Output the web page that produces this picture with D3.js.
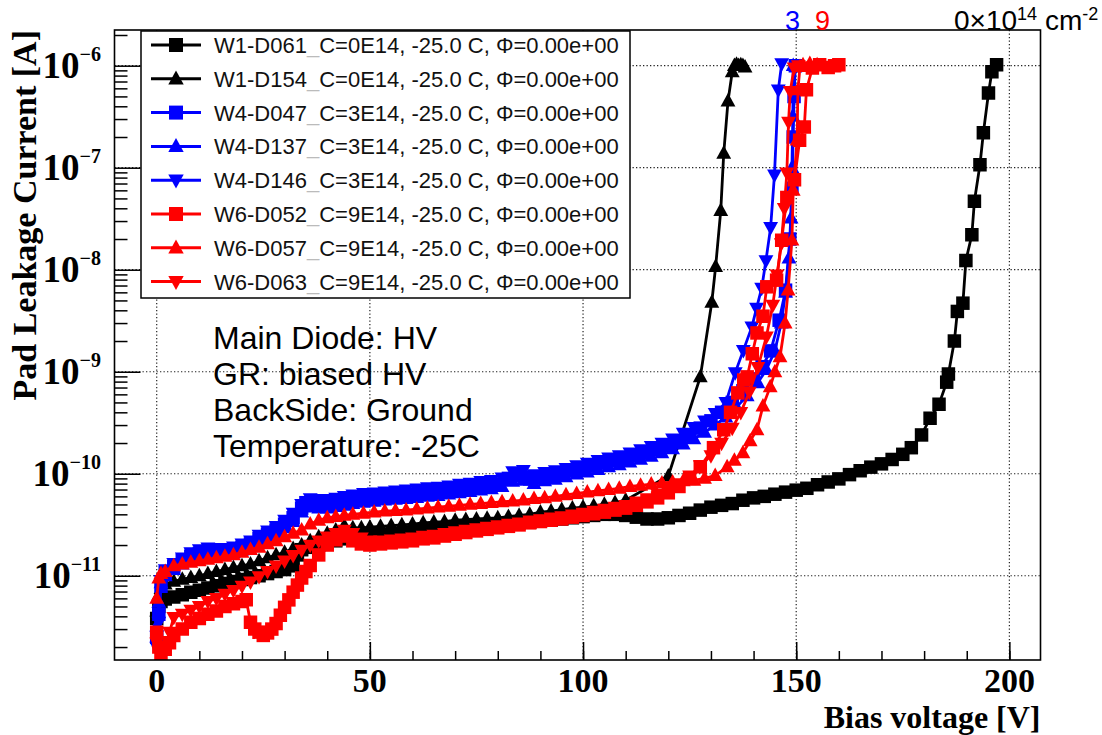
<!DOCTYPE html>
<html><head><meta charset="utf-8">
<script src="https://cdn.jsdelivr.net/npm/d3@7"></script>
<style>body{margin:0;background:#fff}</style>
</head><body><svg id="c" width="1102" height="735"></svg>
<script>
// ---------------- data: [bias voltage V, current A] ----------------
const w1d061 = [[0,3.8e-12],[0.5,5.0e-12],[1,5.6e-12],[2,5.9e-12],[4,6.2e-12],[6,6.5e-12],[8,6.9e-12],[10,7.2e-12],[12,7.6e-12],[14,8.0e-12],[16,8.4e-12],[18,8.8e-12],[20,9.2e-12],[22,9.6e-12],[24,1.0e-11],[26,1.05e-11],[28,1.1e-11],[30,1.15e-11],[32,1.25e-11],[33,1.6e-11],[34,1.8e-11],[36,1.9e-11],[38,2.0e-11],[40,2.1e-11],[42,2.2e-11],[44,2.3e-11],[46,2.35e-11],[48,2.4e-11],[50,2.45e-11],[52.5,2.5e-11],[55,2.55e-11],[57.5,2.6e-11],[60,2.65e-11],[62.5,2.75e-11],[65,2.8e-11],[67.5,2.85e-11],[70,2.9e-11],[72.5,3.0e-11],[75,3.05e-11],[77.5,3.1e-11],[80,3.15e-11],[82.5,3.2e-11],[85,3.3e-11],[87.5,3.35e-11],[90,3.45e-11],[92.5,3.5e-11],[95,3.6e-11],[97.5,3.7e-11],[100,3.8e-11],[102.5,3.9e-11],[105,4.0e-11],[107.5,4.0e-11],[110,3.9e-11],[112.5,3.75e-11],[115,3.6e-11],[117.5,3.6e-11],[120,3.7e-11],[122.5,3.9e-11],[125,4.1e-11],[127.5,4.4e-11],[130,4.7e-11],[132.5,4.9e-11],[135,5.1e-11],[137.5,5.5e-11],[140,5.8e-11],[142.5,6.0e-11],[145,6.3e-11],[147.5,6.6e-11],[150,6.9e-11],[152.5,7.2e-11],[155,7.8e-11],[157.5,8.3e-11],[160,8.9e-11],[162.5,9.8e-11],[165,1.07e-10],[167.5,1.16e-10],[170,1.25e-10],[172.5,1.38e-10],[175,1.55e-10],[177,1.8e-10],[179.4,2.4e-10],[181.4,3.5e-10],[183.5,4.8e-10],[185.3,7.9e-10],[185.7,9.5e-10],[187.1,2.0e-9],[187.8,3.9e-9],[189.1,4.7e-9],[189.8,1.23e-8],[191.2,2.2e-8],[191.8,4.7e-8],[193.1,1.07e-7],[193.9,2.2e-7],[195.1,5.4e-7],[195.9,8.7e-7],[197.0,1.02e-6]];
const w1d154 = [[0,4.5e-12],[0.5,6.5e-12],[1,7.5e-12],[2,8.3e-12],[4,8.8e-12],[6,9.2e-12],[8,9.6e-12],[10,1.0e-11],[12,1.05e-11],[14,1.1e-11],[16,1.15e-11],[18,1.2e-11],[20,1.25e-11],[22,1.3e-11],[24,1.4e-11],[26,1.5e-11],[28,1.6e-11],[30,1.7e-11],[32,1.85e-11],[34,2.0e-11],[36,2.2e-11],[38,2.4e-11],[40,2.6e-11],[42,2.8e-11],[44,3.1e-11],[46,2.95e-11],[48,2.95e-11],[50,3.0e-11],[52.5,3.05e-11],[55,3.1e-11],[57.5,3.15e-11],[60,3.2e-11],[62.5,3.3e-11],[65,3.35e-11],[67.5,3.4e-11],[70,3.5e-11],[72.5,3.55e-11],[75,3.6e-11],[77.5,3.65e-11],[80,3.7e-11],[82.5,3.8e-11],[85,3.9e-11],[87.5,4.0e-11],[90,4.2e-11],[92.5,4.3e-11],[95,4.45e-11],[97.5,4.6e-11],[100,4.7e-11],[102.5,4.85e-11],[105,5.0e-11],[107.5,5.2e-11],[110,5.5e-11],[120,9.5e-11],[127.5,8.9e-10],[130.2,4.8e-9],[131.1,1.07e-8],[132.3,3.8e-8],[133.0,1.38e-7],[134.0,4.5e-7],[135.0,8.7e-7],[135.5,1.0e-6],[136,1.03e-6],[136.5,1.0e-6],[137,1.02e-6],[137.5,1.0e-6],[138,9.7e-7]];
const w4d047 = [[0,2.5e-12],[0.5,4.2e-12],[1,7.9e-12],[2,1.07e-11],[4,1.23e-11],[6,1.4e-11],[8,1.55e-11],[10,1.65e-11],[12,1.74e-11],[14,1.72e-11],[16,1.7e-11],[18,1.78e-11],[20,1.9e-11],[22,2.05e-11],[24,2.3e-11],[26,2.55e-11],[28,2.8e-11],[30,3.2e-11],[32,3.7e-11],[34,4.6e-11],[35,5.2e-11],[37,5.1e-11],[39,5.0e-11],[41,5.1e-11],[43,5.25e-11],[45,5.5e-11],[47.5,5.7e-11],[50,5.8e-11],[52.5,5.95e-11],[55,6.1e-11],[57.5,6.2e-11],[60,6.3e-11],[62.5,6.5e-11],[65,6.6e-11],[67.5,6.8e-11],[70,7.0e-11],[72.5,7.2e-11],[75,7.5e-11],[77.5,7.7e-11],[80,7.9e-11],[82.5,9.0e-11],[85,1.0e-10],[87.5,8.9e-11],[90,9.2e-11],[92.5,9.5e-11],[95,1.0e-10],[97.5,1.08e-10],[100,1.12e-10],[102.5,1.2e-10],[105,1.28e-10],[107.5,1.35e-10],[110,1.4e-10],[112.5,1.5e-10],[115,1.6e-10],[117.5,1.75e-10],[120,1.9e-10],[122.5,2.1e-10],[125,2.4e-10],[127.5,2.8e-10],[130,3.3e-10],[132.5,4.0e-10],[135,5.0e-10],[137.5,6.5e-10],[140,8.5e-10],[142,1.12e-9],[144,1.6e-9],[146,3.2e-9],[147.5,6.3e-9],[148.5,2.0e-8],[149,6.3e-8],[149.3,2.0e-7],[149.5,5.0e-7],[149.8,1.0e-6]];
const w4d137 = [[0,3.2e-12],[0.5,5.5e-12],[1,8.5e-12],[2,1.0e-11],[4,1.15e-11],[6,1.3e-11],[8,1.45e-11],[10,1.55e-11],[12,1.62e-11],[14,1.6e-11],[16,1.6e-11],[18,1.68e-11],[20,1.78e-11],[22,1.92e-11],[24,2.15e-11],[26,2.4e-11],[28,2.6e-11],[30,2.95e-11],[32,3.4e-11],[34,4.2e-11],[36,4.7e-11],[38,4.6e-11],[40,4.6e-11],[42,4.75e-11],[44,4.9e-11],[46,5.1e-11],[48.5,5.25e-11],[51,5.35e-11],[53.5,5.5e-11],[56,5.6e-11],[58.5,5.7e-11],[61,5.85e-11],[63.5,6.0e-11],[66,6.1e-11],[68.5,6.3e-11],[71,6.5e-11],[73.5,6.7e-11],[76,6.9e-11],[78.5,7.1e-11],[81,7.5e-11],[83.5,8.4e-11],[86,8.6e-11],[88.5,8.0e-11],[91,8.5e-11],[93.5,8.8e-11],[96,9.3e-11],[98.5,9.9e-11],[101,1.04e-10],[103.5,1.1e-10],[106,1.17e-10],[108.5,1.22e-10],[111,1.3e-10],[113.5,1.38e-10],[116,1.48e-10],[118.5,1.6e-10],[121,1.75e-10],[123.5,1.95e-10],[126,2.2e-10],[128.5,2.55e-10],[131,3.0e-10],[133.5,3.6e-10],[136,4.5e-10],[138.5,5.8e-10],[141,7.8e-10],[143,1.05e-9],[145,1.6e-9],[146.5,3.0e-9],[147.5,6.0e-9],[148.3,1.3e-8],[148.8,3.2e-8],[149,1.0e-7],[149.2,3.2e-7],[149.3,1.0e-6]];
const w4d146 = [[0,2.0e-12],[0.5,3.5e-12],[1,9.0e-12],[2,1.15e-11],[4,1.32e-11],[6,1.5e-11],[8,1.68e-11],[10,1.8e-11],[12,1.88e-11],[14,1.85e-11],[16,1.85e-11],[18,1.92e-11],[20,2.05e-11],[22,2.2e-11],[24,2.5e-11],[26,2.75e-11],[28,3.05e-11],[30,3.5e-11],[32,4.1e-11],[34,5.0e-11],[36,5.7e-11],[38,5.6e-11],[40,5.6e-11],[42,5.75e-11],[44,6.0e-11],[46,6.2e-11],[48.5,6.4e-11],[51,6.5e-11],[53.5,6.65e-11],[56,6.8e-11],[58.5,6.95e-11],[61,7.1e-11],[63.5,7.3e-11],[66,7.4e-11],[68.5,7.6e-11],[71,7.9e-11],[73.5,8.1e-11],[76,8.4e-11],[78.5,8.6e-11],[81,9.1e-11],[83.5,1.05e-10],[86,1.08e-10],[88.5,9.8e-11],[91,1.03e-10],[93.5,1.07e-10],[96,1.13e-10],[98.5,1.2e-10],[101,1.27e-10],[103.5,1.35e-10],[106,1.43e-10],[108.5,1.5e-10],[111,1.6e-10],[113.5,1.72e-10],[116,1.85e-10],[118.5,2.0e-10],[121,2.2e-10],[123.5,2.5e-10],[126,2.85e-10],[128.5,3.3e-10],[131,3.9e-10],[133.5,5.0e-10],[135.7,9.8e-10],[137.6,1.62e-9],[139.6,2.75e-9],[140.7,4.2e-9],[141.9,6.6e-9],[142.9,1.23e-8],[144.0,2.6e-8],[144.9,8.5e-8],[145.8,5.8e-7],[146.6,1.05e-6]];
const w6d052 = [[0,2.8e-12],[0.5,2.0e-12],[1,1.7e-12],[2,1.9e-12],[3,2.2e-12],[4,2.6e-12],[6,3.0e-12],[8,3.5e-12],[10,3.8e-12],[12,4.2e-12],[14,4.5e-12],[16,5.0e-12],[18,5.3e-12],[20,5.6e-12],[21,5.8e-12],[22,3.5e-12],[23,3.0e-12],[24,2.8e-12],[25,2.6e-12],[26,2.75e-12],[27,3.0e-12],[28,3.4e-12],[29,4.1e-12],[30,4.9e-12],[31,5.8e-12],[32,6.9e-12],[33,8.1e-12],[34,9.5e-12],[35,1.1e-11],[36,1.26e-11],[38,1.6e-11],[40,2.0e-11],[42,2.25e-11],[44,2.45e-11],[46,2.2e-11],[48,2.05e-11],[50,2.0e-11],[52.5,2.05e-11],[55,2.1e-11],[57.5,2.15e-11],[60,2.2e-11],[62.5,2.3e-11],[65,2.35e-11],[67.5,2.45e-11],[70,2.55e-11],[72.5,2.65e-11],[75,2.75e-11],[77.5,2.85e-11],[80,2.95e-11],[82.5,3.05e-11],[85,3.15e-11],[87.5,3.3e-11],[90,3.4e-11],[92.5,3.5e-11],[95,3.6e-11],[97.5,3.75e-11],[100,3.9e-11],[102.5,4.05e-11],[105,4.2e-11],[107.5,4.4e-11],[110,4.6e-11],[112.5,4.9e-11],[115,5.3e-11],[117.5,5.8e-11],[120,6.5e-11],[122.5,7.5e-11],[125,9.0e-11],[127.5,1.17e-10],[130.6,1.8e-10],[133,2.7e-10],[134.6,4.0e-10],[136.3,6.2e-10],[137.7,8.3e-10],[138.5,8.9e-10],[139.7,1.5e-9],[140.8,2.4e-9],[142.2,3.5e-9],[143.1,6.8e-9],[145.4,7.9e-9],[146.6,1.95e-8],[147.8,5.1e-8],[149.6,7.6e-8],[150.8,1.86e-7],[151.9,2.5e-7],[152.4,5.8e-7],[153.8,9.5e-7],[155.5,1.02e-6],[157.5,9.6e-7],[159,1.0e-6],[160,1.02e-6]];
const w6d057 = [[0,6.0e-12],[0.5,9.5e-12],[1,1.05e-11],[2,1.1e-11],[4,1.25e-11],[6,1.3e-11],[8,1.35e-11],[10,1.4e-11],[12,1.45e-11],[14,1.5e-11],[16,1.55e-11],[18,1.6e-11],[20,1.7e-11],[22,1.8e-11],[24,1.9e-11],[26,2.05e-11],[28,2.2e-11],[30,2.4e-11],[32,2.6e-11],[34,2.8e-11],[36,3.2e-11],[38,3.5e-11],[40,3.7e-11],[42,3.8e-11],[44,3.9e-11],[46,4.0e-11],[48.5,4.1e-11],[51,4.2e-11],[53.5,4.3e-11],[56,4.35e-11],[58.5,4.4e-11],[61,4.5e-11],[63.5,4.6e-11],[66,4.7e-11],[68.5,4.8e-11],[71,4.9e-11],[73.5,5.0e-11],[76,5.1e-11],[78.5,5.2e-11],[81,5.3e-11],[83.5,5.4e-11],[86,5.5e-11],[88.5,5.7e-11],[91,5.8e-11],[93.5,6.0e-11],[96,6.2e-11],[98.5,6.4e-11],[101,6.6e-11],[103.5,6.8e-11],[106,7.0e-11],[108.5,7.2e-11],[111,7.5e-11],[113.5,7.7e-11],[116,7.9e-11],[118.5,8.1e-11],[121,8.3e-11],[123.5,8.5e-11],[126,8.6e-11],[128.5,9.0e-11],[131,9.6e-11],[133.8,1.17e-10],[135.5,1.35e-10],[137.5,1.6e-10],[139.2,2.1e-10],[140.8,2.7e-10],[142.2,4.6e-10],[143.9,7.1e-10],[145,1.0e-9],[146.2,1.4e-9],[147.4,3.0e-9],[148.1,6.3e-9],[149.0,1.95e-8],[149.3,6.0e-8],[150.2,1.86e-7],[150.4,5.8e-7],[150.9,9.8e-7],[151.6,1.02e-6],[153.2,1.05e-6],[154.9,1.02e-6]];
const w6d063 = [[0,2.2e-12],[0.5,1.8e-12],[1,1.6e-12],[2,2.0e-12],[3,2.8e-12],[4,3.9e-12],[6,4.2e-12],[8,4.6e-12],[10,5.0e-12],[12,5.6e-12],[14,6.0e-12],[16,6.6e-12],[18,7.2e-12],[20,7.9e-12],[22,8.7e-12],[24,9.8e-12],[26,1.1e-11],[28,1.25e-11],[30,1.4e-11],[32,1.58e-11],[34,1.78e-11],[36,2.0e-11],[38,2.2e-11],[40,2.4e-11],[42,2.6e-11],[44,2.8e-11],[46,2.6e-11],[48,2.35e-11],[50,2.2e-11],[52.5,2.2e-11],[55,2.25e-11],[57.5,2.3e-11],[60,2.35e-11],[62.5,2.45e-11],[65,2.5e-11],[67.5,2.6e-11],[70,2.7e-11],[72.5,2.8e-11],[75,2.9e-11],[77.5,3.0e-11],[80,3.1e-11],[82.5,3.2e-11],[85,3.3e-11],[87.5,3.45e-11],[90,3.55e-11],[92.5,3.7e-11],[95,3.8e-11],[97.5,3.95e-11],[100,4.1e-11],[102.5,4.3e-11],[105,4.5e-11],[107.5,4.7e-11],[110,4.9e-11],[112.5,5.3e-11],[115,5.7e-11],[117.5,6.3e-11],[120,7.0e-11],[122.5,8.0e-11],[125,9.5e-11],[127.5,1.2e-10],[130,1.5e-10],[132.5,2.0e-10],[135,2.8e-10],[137,4.0e-10],[139,6.3e-10],[141,1.1e-9],[143,2.2e-9],[144.5,4.5e-9],[145.5,8.9e-9],[146.5,1.8e-8],[147.2,4.0e-8],[147.8,8.9e-8],[148.2,2.8e-7],[148.6,5.6e-7],[149.5,9.5e-7],[150.5,1.0e-6]];

const seriesData    = [w1d061, w1d154, w4d047, w4d137, w4d146, w6d052, w6d057, w6d063];
const seriesNames   = ["W1-D061","W1-D154","W4-D047","W4-D137","W4-D146","W6-D052","W6-D057","W6-D063"];
const seriesFluence = ["0E14","0E14","3E14","3E14","3E14","9E14","9E14","9E14"];
const seriesColors  = ["#000000","#000000","#0000ff","#0000ff","#0000ff","#ff0000","#ff0000","#ff0000"];
const seriesMarkers = ["square","up","square","up","down","square","up","down"];

const xMajorTicks = [0, 50, 100, 150, 200];
const xMinorTicks = d3.range(0, 201, 10);
const yDecades = [1e-11, 1e-10, 1e-9, 1e-8, 1e-7, 1e-6];
const yExpLabels = ["\u221211","\u221210","\u22129","\u22128","\u22127","\u22126"];
const annotationLines = ["Main Diode: HV","GR: biased HV","BackSide: Ground","Temperature: -25C"];

// ---------------- layout ----------------
const svg = d3.select("#c");
const L = 114.5, R = 1040.5, T = 30, B = 660;
const x = d3.scaleLinear().domain([-9.9, 207.3]).range([L, R]);
const y = d3.scaleLog().domain([Math.pow(10,-11.826), Math.pow(10,-5.650)]).range([B, T]);
const serif = "'Liberation Serif','Times New Roman',serif";
const sans = "'Liberation Sans',Arial,Helvetica,sans-serif";

svg.append("rect").attr("width",1102).attr("height",735).attr("fill","#fff");

// grid
const grid = svg.append("g").attr("stroke","#222").attr("stroke-width",1.2).attr("stroke-dasharray","1.3,2.2");
xMajorTicks.forEach(v => grid.append("line").attr("x1",x(v)).attr("x2",x(v)).attr("y1",T).attr("y2",B));
yDecades.forEach(v => grid.append("line").attr("x1",L).attr("x2",R).attr("y1",y(v)).attr("y2",y(v)));

// axes ticks (inside)
const gx = svg.append("g").attr("transform",`translate(0,${B})`);
gx.call(d3.axisBottom(x).tickValues(xMinorTicks).tickSize(-9).tickFormat(""));
gx.call(g => g.append("g").call(d3.axisBottom(x).tickValues(xMajorTicks).tickSize(-18).tickFormat("")));
const yMinor = [];
for (let e = -12; e <= -6; e++) for (let m = 2; m <= 9; m++) { const v = m*Math.pow(10,e); if (v > y.domain()[0] && v < y.domain()[1]) yMinor.push(v); }
const gy = svg.append("g").attr("transform",`translate(${L},0)`);
gy.call(d3.axisLeft(y).tickValues(yMinor).tickSize(-13).tickFormat(""));
gy.call(g => g.append("g").call(d3.axisLeft(y).tickValues(yDecades).tickSize(-26).tickFormat("")));
svg.selectAll(".domain").remove();
svg.selectAll(".tick line").attr("stroke","#000").attr("stroke-width",1.5);

// tick labels
xMajorTicks.forEach(v => svg.append("text").attr("x",x(v)).attr("y",691.5).attr("text-anchor","middle")
  .attr("font-family",serif).attr("font-weight","bold").attr("font-size",34).text(v));
yDecades.forEach((v,i) => {
  const t = svg.append("text").attr("x",101).attr("y",y(v)+12).attr("text-anchor","end")
    .attr("font-family",serif).attr("font-weight","bold").attr("font-size",37);
  t.append("tspan").text("10");
  t.append("tspan").attr("dy",-17).attr("font-size",20).text(yExpLabels[i]);
});

// axis titles
svg.append("text").attr("x",R).attr("y",727.5).attr("text-anchor","end").attr("font-family",serif)
  .attr("font-weight","bold").attr("font-size",32).text("Bias voltage [V]");
svg.append("text").attr("transform",`translate(36,${T}) rotate(-90)`).attr("text-anchor","end").attr("font-family",serif)
  .attr("font-weight","bold").attr("font-size",34).text("Pad Leakage Current [A]");

// markers
function markerPath(type, s) {
  if (type === "square") return `M${-s/2},${-s/2}h${s}v${s}h${-s}Z`;
  const h = s*1.0, w = s*1.1;
  if (type === "up") return `M0,${-h*0.6}L${w/2},${h*0.4}L${-w/2},${h*0.4}Z`;
  return `M0,${h*0.6}L${w/2},${-h*0.4}L${-w/2},${-h*0.4}Z`;
}

// data
svg.append("clipPath").attr("id","clip").append("rect").attr("x",L).attr("y",T).attr("width",R-L).attr("height",B-T);
const plot = svg.append("g").attr("clip-path","url(#clip)");
const line = d3.line().x(d => x(d[0])).y(d => y(d[1]));
seriesData.forEach((data,i) => {
  const g = plot.append("g");
  g.append("path").attr("d",line(data)).attr("fill","none").attr("stroke",seriesColors[i]).attr("stroke-width",2.8);
  g.selectAll("path.m").data(data).enter().append("path").attr("class","m")
    .attr("transform",d => `translate(${x(d[0])},${y(d[1])})`)
    .attr("d",markerPath(seriesMarkers[i],13.5)).attr("fill",seriesColors[i]);
});

// frame
svg.append("rect").attr("x",L).attr("y",T).attr("width",R-L).attr("height",B-T)
  .attr("fill","none").attr("stroke","#000").attr("stroke-width",1.6);

// legend
const lg = svg.append("g");
lg.append("rect").attr("x",141).attr("y",31).attr("width",489).attr("height",267).attr("fill","#fff").attr("stroke","#000").attr("stroke-width",1.5);
seriesNames.forEach((n,i) => {
  const cy = 45 + i*33.8;
  lg.append("line").attr("x1",151).attr("x2",201).attr("y1",cy).attr("y2",cy).attr("stroke",seriesColors[i]).attr("stroke-width",3);
  lg.append("path").attr("transform",`translate(176,${cy})`).attr("d",markerPath(seriesMarkers[i],14)).attr("fill",seriesColors[i]);
  const t = lg.append("text").attr("x",214).attr("y",cy+8).attr("font-family",sans).attr("font-size",22).attr("fill","#111");
  t.append("tspan").text(n);
  t.append("tspan").attr("fill","#bbb").text("_");
  t.append("tspan").text(`C=${seriesFluence[i]}, -25.0 C, \u03A6=0.00e+00`);
});

// annotation
annotationLines.forEach((s,i) => svg.append("text").attr("x",213).attr("y",349+i*36).attr("font-family",sans)
  .attr("font-size",32).attr("fill","#000").text(s));

// fluence labels on top
svg.append("text").attr("x",785).attr("y",30).attr("font-family",sans).attr("font-size",27).attr("fill","#0000ff").text("3");
svg.append("text").attr("x",815).attr("y",30).attr("font-family",sans).attr("font-size",27).attr("fill","#ff0000").text("9");
const ft = svg.append("text").attr("x",954).attr("y",30).attr("font-family",sans).attr("font-size",28).attr("fill","#000");
ft.append("tspan").text("0\u00D710");
ft.append("tspan").attr("dy",-10).attr("font-size",18).text("14");
ft.append("tspan").attr("dy",10).text(" cm");
ft.append("tspan").attr("dy",-10).attr("font-size",18).text("-2");
</script></body></html>
